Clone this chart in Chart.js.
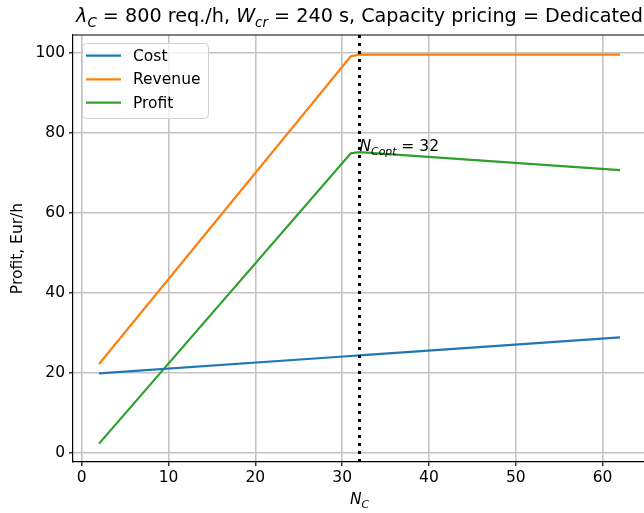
<!DOCTYPE html>
<html><head><meta charset="utf-8">
<script src="https://cdn.jsdelivr.net/npm/chart.js@4"></script>
<style>html,body{margin:0;padding:0;overflow:hidden;background:#fff}#wrap{width:700px;height:513px;position:relative}</style>
</head><body><div id="wrap"><canvas id="c" width="700" height="513"></canvas></div>
<script>
const N = [2, 31, 32, 62];
const cost = [19.9, 24.25, 24.4, 28.9];
const revenue = [22.25, 99.2, 99.6, 99.6];
const profit = [2.35, 74.95, 75.2, 70.7];
const xTicks = [0, 10, 20, 30, 40, 50, 60];
const yTicks = [0, 20, 40, 60, 80, 100];
const seriesNames = ['Cost', 'Revenue', 'Profit'];
const optN = 32;
const optProfit = 75.2;

const FONT = 'DejaVu Sans';
const FS = 15.5;
const colors = ['#1f77b4', '#ff7f0e', '#2ca02c'];

function pts(ys) { return N.map((x, i) => ({x: x, y: ys[i]})); }

function rich(ctx, segs, x, y, align) {
  let w = 0;
  const m = segs.map(s => {
    const sz = s.sub ? s.size * 0.7 : s.size;
    ctx.font = (s.it ? 'italic ' : '') + sz + 'px "' + FONT + '"';
    const ww = ctx.measureText(s.t).width;
    w += ww;
    return {s, sz, ww};
  });
  let cx = align === 'center' ? x - w / 2 : (align === 'right' ? x - w : x);
  ctx.textBaseline = 'alphabetic';
  ctx.textAlign = 'left';
  m.forEach(o => {
    ctx.font = (o.s.it ? 'italic ' : '') + o.sz + 'px "' + FONT + '"';
    ctx.fillText(o.s.t, cx, y + (o.s.sub ? o.s.size * 0.25 : 0));
    cx += o.ww;
  });
  return w;
}

const deco = {
  id: 'deco',
  afterDatasetsDraw(chart) {
    const ctx = chart.ctx, a = chart.chartArea;
    const xs = chart.scales.x, ys = chart.scales.y;
    ctx.save();
    const vx = xs.getPixelForValue(optN);
    ctx.strokeStyle = '#000';
    ctx.lineWidth = 3;
    ctx.setLineDash([3, 5]);
    ctx.beginPath();
    ctx.moveTo(vx, a.bottom);
    ctx.lineTo(vx, a.top);
    ctx.stroke();
    ctx.setLineDash([]);
    ctx.fillStyle = '#000';
    rich(ctx, [{t: 'N', it: true, size: FS}, {t: 'Copt', it: true, sub: true, size: FS}, {t: ' = ' + optN, size: FS}],
      vx, ys.getPixelForValue(optProfit) - 1, 'left');
    ctx.strokeStyle = '#000';
    ctx.lineWidth = 1.2;
    ctx.beginPath();
    ctx.moveTo(a.left, a.top); ctx.lineTo(a.right, a.top); ctx.lineTo(a.right, a.bottom);
    ctx.stroke();
    const lx = 82, ly = 43, lw = 126, lh = 75, r = 4;
    ctx.fillStyle = 'rgba(255,255,255,0.8)';
    ctx.strokeStyle = '#d0d0d0';
    ctx.lineWidth = 1;
    ctx.beginPath();
    ctx.roundRect(lx + 0.5, ly + 0.5, lw, lh, r);
    ctx.fill(); ctx.stroke();
    const rows = [55.7, 79.3, 102.7];
    seriesNames.forEach((nm, i) => {
      ctx.strokeStyle = colors[i];
      ctx.lineWidth = 2.2;
      ctx.beginPath();
      ctx.moveTo(86, rows[i]); ctx.lineTo(121, rows[i]);
      ctx.stroke();
      ctx.fillStyle = '#000';
      ctx.font = FS + 'px "' + FONT + '"';
      ctx.textBaseline = 'middle';
      ctx.textAlign = 'left';
      ctx.fillText(nm, 133, rows[i] + 1);
    });
    ctx.restore();
  },
  afterDraw(chart) {
    const ctx = chart.ctx, a = chart.chartArea;
    ctx.save();
    ctx.fillStyle = '#000';
    const TS = 19.2;
    rich(ctx, [
      {t: 'λ', it: true, size: TS}, {t: 'C', it: true, sub: true, size: TS},
      {t: ' = 800 req./h, ', size: TS},
      {t: 'W', it: true, size: TS}, {t: 'cr', it: true, sub: true, size: TS},
      {t: ' = 240 s, Capacity pricing = Dedicated', size: TS}
    ], (a.left + a.right) / 2, 22, 'center');
    rich(ctx, [{t: 'N', it: true, size: FS}, {t: 'C', it: true, sub: true, size: FS}], (a.left + a.right) / 2, 504, 'center');
    ctx.translate(22, (a.top + a.bottom) / 2);
    ctx.rotate(-Math.PI / 2);
    ctx.font = FS + 'px "' + FONT + '"';
    ctx.textAlign = 'center';
    ctx.textBaseline = 'alphabetic';
    ctx.fillText('Profit, Eur/h', 0, 0);
    ctx.restore();
  }
};

const gridCfg = {color: '#c4c4c4', lineWidth: 1.6, tickColor: '#000', tickLength: 4, tickWidth: 1.2};

new Chart(document.getElementById('c'), {
  type: 'line',
  data: {
    datasets: [
      {label: seriesNames[0], data: pts(cost), borderColor: colors[0]},
      {label: seriesNames[1], data: pts(revenue), borderColor: colors[1]},
      {label: seriesNames[2], data: pts(profit), borderColor: colors[2]}
    ]
  },
  options: {
    responsive: false,
    devicePixelRatio: 1,
    animation: false,
    layout: {padding: {left: 0, top: 35, right: 54, bottom: 0}},
    elements: {point: {radius: 0}, line: {borderWidth: 2.2, tension: 0}},
    plugins: {legend: {display: false}, title: {display: false}, tooltip: {enabled: false}},
    scales: {
      x: {
        type: 'linear', min: -1, max: 65,
        afterBuildTicks: s => { s.ticks = xTicks.map(v => ({value: v})); },
        afterFit: s => { s.height = 51; },
        grid: gridCfg,
        border: {color: '#000', width: 1.2},
        ticks: {font: {family: FONT, size: FS}, color: '#000', padding: 3, maxRotation: 0, autoSkip: false}
      },
      y: {
        type: 'linear', min: -2.25, max: 104.5,
        afterBuildTicks: s => { s.ticks = yTicks.map(v => ({value: v})); },
        afterFit: s => { s.width = 73; },
        grid: gridCfg,
        border: {color: '#000', width: 1.2},
        ticks: {font: {family: FONT, size: FS}, color: '#000', padding: 4, autoSkip: false}
      }
    }
  },
  plugins: [deco]
});
</script>
</body></html>
